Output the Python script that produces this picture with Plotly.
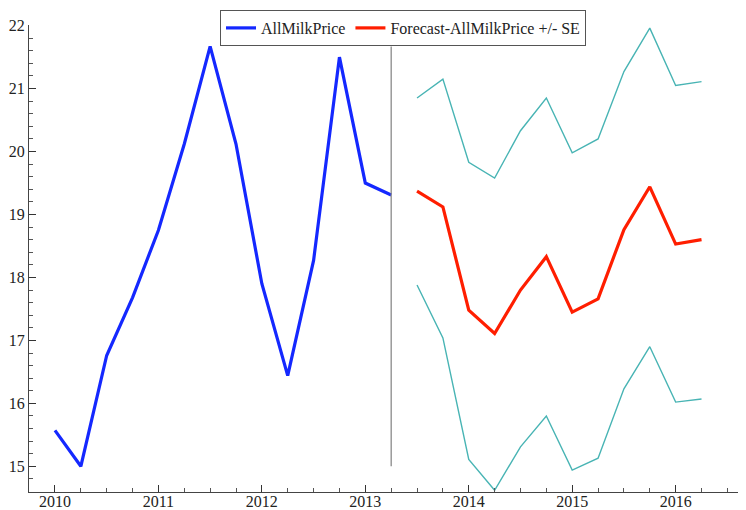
import plotly.graph_objects as go

hist_x = [2010.0, 2010.25, 2010.5, 2010.75, 2011.0, 2011.25, 2011.5, 2011.75,
          2012.0, 2012.25, 2012.5, 2012.75, 2013.0, 2013.25]
hist_y = [15.57, 15.00, 16.76, 17.68, 18.75, 20.12, 21.67, 20.12,
          17.90, 16.44, 18.27, 21.50, 19.50, 19.31]

fc_x = [2013.5, 2013.75, 2014.0, 2014.25, 2014.5, 2014.75,
        2015.0, 2015.25, 2015.5, 2015.75, 2016.0, 2016.25]
fc_y = [19.37, 19.12, 17.48, 17.11, 17.80, 18.33,
        17.45, 17.66, 18.76, 19.44, 18.53, 18.60]
fc_upper = [20.85, 21.15, 19.83, 19.58, 20.33, 20.85,
            19.98, 20.20, 21.27, 21.96, 21.05, 21.11]
fc_lower = [17.88, 17.04, 15.11, 14.62, 15.31, 15.80,
            14.94, 15.13, 16.23, 16.90, 16.02, 16.07]

year_ticks = [2010, 2011, 2012, 2013, 2014, 2015, 2016]
y_ticks = [15, 16, 17, 18, 19, 20, 21, 22]

blue = "#1428ff"
red = "#ff1e00"
teal = "#48b4b4"
font = "'Liberation Serif', 'Times New Roman', 'DejaVu Serif', serif"

fig = go.Figure()
fig.add_trace(go.Scatter(x=hist_x, y=hist_y, mode="lines", name="AllMilkPrice",
                         line=dict(color=blue, width=3.2)))
fig.add_trace(go.Scatter(x=fc_x, y=fc_y, mode="lines", name="Forecast-AllMilkPrice +/- SE",
                         line=dict(color=red, width=3.2)))
fig.add_trace(go.Scatter(x=fc_x, y=fc_upper, mode="lines", showlegend=False,
                         line=dict(color=teal, width=1.4)))
fig.add_trace(go.Scatter(x=fc_x, y=fc_lower, mode="lines", showlegend=False,
                         line=dict(color=teal, width=1.4)))
# divider at end of history spanning history range
fig.add_trace(go.Scatter(x=[hist_x[-1], hist_x[-1]], y=[min(hist_y), max(hist_y)],
                         mode="lines", showlegend=False,
                         line=dict(color="#808080", width=1.2)))

axis_common = dict(showgrid=False, zeroline=False, showline=True, automargin=False,
                   linecolor="#444444", linewidth=1.2, ticks="inside",
                   tickcolor="#333333", ticklen=7, tickwidth=1.2,
                   tickfont=dict(family=font, size=16, color="#222222"))

fig.update_xaxes(range=[2009.749, 2016.68], tickvals=year_ticks,
                 ticktext=[str(v) for v in year_ticks], ticklabelstandoff=-5,
                 minor=dict(ticks="inside", ticklen=4, dtick=0.25, tick0=2010,
                            tickcolor="#555555", tickwidth=1),
                 **axis_common)
fig.update_yaxes(range=[14.592, 22.01], tickvals=y_ticks,
                 ticktext=[str(v) for v in y_ticks],
                 minor=dict(ticks="inside", ticklen=4, dtick=0.2, tick0=15,
                            tickcolor="#555555", tickwidth=1),
                 **axis_common)

# page body has an 8px margin, so the figure is drawn 8px in from the top-left
fig.update_layout(
    width=738, height=502,
    margin=dict(l=21, r=0, t=17, b=18),
    plot_bgcolor="white", paper_bgcolor="white",
    font=dict(family=font, size=16, color="#222222"),
    legend=dict(orientation="h", x=(220 - 29) / 717, xanchor="left",
                y=1 + 15 / 467, yanchor="top",
                bordercolor="#555555", borderwidth=1, bgcolor="white",
                font=dict(family=font, size=16),
                tracegroupgap=0, itemwidth=30),
)

fig.write_html("out.html")
